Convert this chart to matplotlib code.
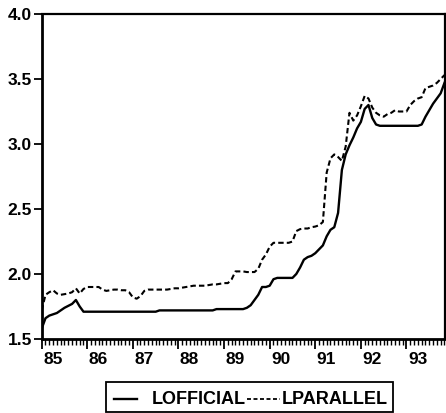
import numpy as np
import matplotlib
matplotlib.use("Agg")
import matplotlib.pyplot as plt
from matplotlib.lines import Line2D
from matplotlib.patches import Rectangle
import matplotlib.transforms as mtransforms

plt.rcParams['font.family'] = ['Liberation Sans', 'DejaVu Sans']

# Monthly series, 1985:01 .. 1993:11
start_year = 1985
series_names = ["LOFFICIAL", "LPARALLEL"]

lofficial = [
    1.58, 1.66, 1.68, 1.69, 1.70, 1.72, 1.74, 1.755, 1.77, 1.80, 1.75, 1.71,   # 85
    1.71, 1.71, 1.71, 1.71, 1.71, 1.71, 1.71, 1.71, 1.71, 1.71, 1.71, 1.71,   # 86
    1.71, 1.71, 1.71, 1.71, 1.71, 1.71, 1.71, 1.72, 1.72, 1.72, 1.72, 1.72,   # 87
    1.72, 1.72, 1.72, 1.72, 1.72, 1.72, 1.72, 1.72, 1.72, 1.72, 1.73, 1.73,   # 88
    1.73, 1.73, 1.73, 1.73, 1.73, 1.73, 1.74, 1.76, 1.80, 1.84, 1.90, 1.90,   # 89
    1.91, 1.96, 1.97, 1.97, 1.97, 1.97, 1.97, 2.00, 2.05, 2.11, 2.13, 2.14,   # 90
    2.16, 2.19, 2.22, 2.29, 2.34, 2.36, 2.47, 2.80, 2.92, 2.99, 3.05, 3.12,   # 91
    3.17, 3.27, 3.30, 3.20, 3.15, 3.14, 3.14, 3.14, 3.14, 3.14, 3.14, 3.14,   # 92
    3.14, 3.14, 3.14, 3.14, 3.15, 3.21, 3.26, 3.31, 3.35, 3.39, 3.47,         # 93
]

lparallel = [
    1.72, 1.84, 1.86, 1.875, 1.85, 1.84, 1.845, 1.85, 1.86, 1.89, 1.85, 1.885,  # 85
    1.90, 1.90, 1.90, 1.90, 1.88, 1.87, 1.875, 1.88, 1.88, 1.875, 1.875, 1.86,  # 86
    1.82, 1.81, 1.83, 1.87, 1.88, 1.88, 1.88, 1.88, 1.88, 1.88, 1.885, 1.89,    # 87
    1.89, 1.895, 1.90, 1.905, 1.91, 1.91, 1.91, 1.91, 1.915, 1.92, 1.92, 1.925, # 88
    1.93, 1.93, 1.96, 2.02, 2.02, 2.02, 2.015, 2.015, 2.015, 2.04, 2.11, 2.15,  # 89
    2.21, 2.24, 2.24, 2.24, 2.24, 2.24, 2.25, 2.33, 2.345, 2.35, 2.35, 2.36,    # 90
    2.365, 2.375, 2.40, 2.78, 2.89, 2.92, 2.90, 2.87, 2.98, 3.24, 3.18, 3.22,   # 91
    3.29, 3.37, 3.35, 3.28, 3.24, 3.22, 3.21, 3.23, 3.24, 3.26, 3.25, 3.25,     # 92
    3.25, 3.30, 3.33, 3.35, 3.36, 3.43, 3.44, 3.45, 3.47, 3.50, 3.53,           # 93
]

year_labels = ["85", "86", "87", "88", "89", "90", "91", "92", "93"]
y_ticks = [1.5, 2.0, 2.5, 3.0, 3.5, 4.0]

t = start_year + np.arange(len(lofficial)) / 12.0

W, H = 446, 413
fig = plt.figure(figsize=(W / 100, H / 100), dpi=100)
ax = fig.add_axes([41.7 / W, 1 - 339 / H, (445 - 41.7) / W, (339 - 14) / H])

ax.plot(t, lofficial, color='black', lw=1.7, solid_joinstyle='round')
ax.plot(t, lparallel, color='black', lw=1.5, dashes=(2.6, 1.5))

ax.set_xlim(start_year, start_year + 8.845)
ax.set_ylim(1.5, 4.0)

fs = 12.5
fw = 'bold'

years = start_year + np.arange(len(year_labels))
ax.set_xticks(years)
ax.set_xticklabels(year_labels, ha='left', fontweight=fw)
ax.set_xticks(start_year + np.arange(0, 107) / 12.0, minor=True)
ax.tick_params(axis='x', which='major', direction='out', length=7, width=1.3,
               pad=2, labelsize=fs)
ax.tick_params(axis='x', which='minor', direction='out', length=4, width=1.0)
offset = mtransforms.ScaledTranslation(1.5 / 100, 0, fig.dpi_scale_trans)
for lab in ax.get_xticklabels():
    lab.set_transform(lab.get_transform() + offset)

ax.set_yticks(y_ticks)
ax.set_yticklabels([f"{v:.1f}" for v in y_ticks], fontweight=fw)
ax.tick_params(axis='y', direction='out', length=6, width=1.3, pad=1,
               labelsize=fs)

for side, lw in [('left', 2.0), ('bottom', 2.0), ('top', 1.6), ('right', 1.6)]:
    ax.spines[side].set_linewidth(lw)
    ax.spines[side].set_color('black')

# legend box (EViews style)
def fx(px):
    return px / W
def fy(py):
    return 1 - py / H

lfs = 13
fig.add_artist(Rectangle((fx(106), fy(412)), fx(393) - fx(106), fy(382) - fy(412),
                         transform=fig.transFigure, fill=False, lw=1.3,
                         edgecolor='black'))
fig.add_artist(Line2D([fx(114), fx(137)], [fy(399), fy(399)],
                      transform=fig.transFigure, color='black', lw=1.7))
fig.text(fx(152), fy(399), series_names[0], fontsize=lfs, fontweight=fw,
         va='center', ha='left')
fig.add_artist(Line2D([fx(247), fx(280)], [fy(399), fy(399)],
                      transform=fig.transFigure, color='black', lw=1.3,
                      dashes=(2.2, 1.4)))
fig.text(fx(282), fy(399), series_names[1], fontsize=lfs, fontweight=fw,
         va='center', ha='left')

fig.savefig("out.png", dpi=100)
